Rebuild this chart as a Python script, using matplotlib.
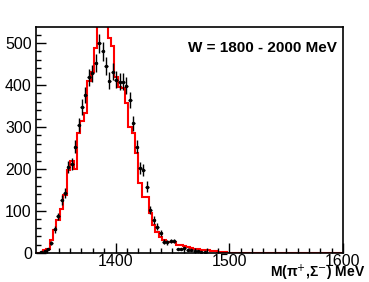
import numpy as np
import matplotlib.pyplot as plt

plt.rcParams['font.family'] = ['Liberation Sans', 'DejaVu Sans']

# 3 MeV bins from 1330 to 1600
bin_lo = 1330
bin_w = 3

# fit histogram (red), one value per bin starting at 1330
fit_vals = [0, 1, 8, 10, 30, 55, 78, 105, 138, 198,
            220, 200, 285, 315, 333, 410, 432, 487, 570, 600,
            570, 511, 493, 420, 396, 392, 357, 301, 285, 238,
            167, 134, 134, 95, 67, 51, 39, 31, 27, 27,
            25, 20, 18, 16, 14, 12, 10, 9, 8, 7,
            6, 5, 4, 3, 2, 2, 1, 1, 1, 0]

# data points (black), one value per bin starting at 1333
data_vals = [3, 5, 9, 23, 56, 87, 126, 142, 205, 212,
             253, 305, 348, 376, 418, 428, 452, 499, 480, 446,
             410, 432, 412, 408, 408, 398, 364, 309, 253, 202,
             198, 158, 102, 79, 63, 47, 27, 25, 28, 28,
             9, 9, 11, 8, 7, 5, 4, 3, 2]

fit_vals = fit_vals + [0] * (90 - len(fit_vals))
edges = bin_lo + bin_w * np.arange(len(fit_vals) + 1)
data_x = bin_lo + bin_w + bin_w * np.arange(len(data_vals)) + bin_w / 2
data_y = np.array(data_vals, dtype=float)

fig = plt.figure(figsize=(3.69, 2.82), dpi=100)
ax = fig.add_axes([36 / 369, 29 / 282, 307 / 369, 226 / 282])

ax.stairs(fit_vals, edges, color='#ff0000', lw=1.5, baseline=0)
ax.errorbar(data_x, data_y, yerr=np.sqrt(data_y), xerr=bin_w / 2,
            fmt='o', ms=1.5, color='black', ecolor='black',
            elinewidth=1.0, capsize=0)

ax.set_xlim(1330, 1600)
ax.set_ylim(0, 538)
ax.set_xticks([1400, 1500, 1600])
ax.set_xticks(np.arange(1340, 1600, 10), minor=True)
ax.set_yticks([0, 100, 200, 300, 400, 500])
ax.set_yticks(np.arange(0, 538, 20), minor=True)
ax.tick_params(which='both', direction='in', top=False, right=False,
               labelsize=11.5, width=1)
ax.tick_params(which='major', length=7)
ax.tick_params(which='minor', length=3.5)
ax.tick_params(axis='y', pad=3)
ax.tick_params(axis='x', pad=1)
for s in ax.spines.values():
    s.set_linewidth(1.2)

ax.text(0.98, 0.907, "W = 1800 - 2000 MeV", transform=ax.transAxes,
        ha='right', va='center', fontsize=11, fontweight='bold')
fig.text(365 / 369, 5 / 282, "M(π$^{+}$,Σ$^{-}$) MeV",
         ha='right', va='baseline', fontsize=10, fontweight='bold')

fig.savefig("out.png", dpi=100)
